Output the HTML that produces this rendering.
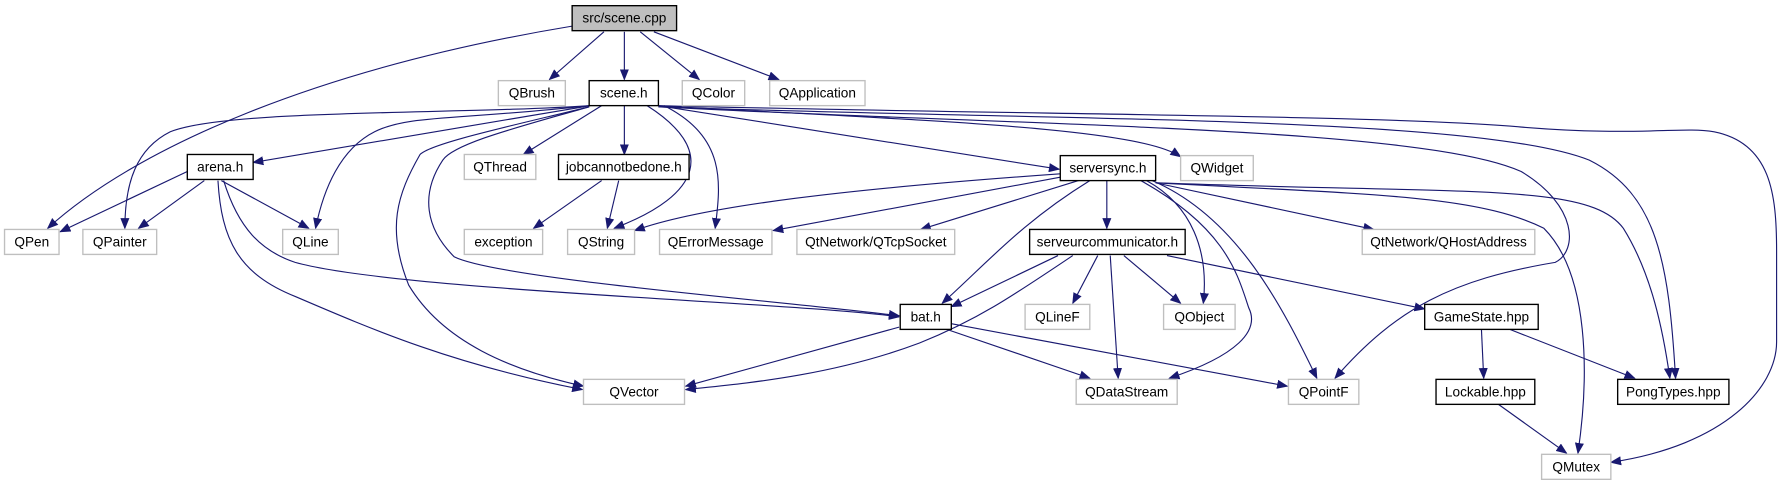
<!DOCTYPE html>
<html><head><meta charset="utf-8"><style>
html,body{margin:0;padding:0;background:#fff;}
svg{display:block;}
text{font-family:"Liberation Sans",sans-serif;font-size:12px;text-anchor:middle;fill:#000;}
.e{fill:none;stroke:#191970;stroke-width:1;marker-end:url(#a);}
.n rect{fill:#fff;stroke:#000;stroke-width:1.2;}
.g rect{fill:#fff;stroke:#bfbfbf;stroke-width:1.2;}
</style></head><body>
<svg width="1780" height="485" viewBox="0 0 1568 427" preserveAspectRatio="none">
<defs><marker id="a" markerWidth="10" markerHeight="8" refX="9" refY="4" orient="auto" markerUnits="userSpaceOnUse"><path d="M0,0 L10,4 L0,8 z" fill="#191970"/></marker></defs>
<g>
<path class="e" d="M504,23 C280,60 120,130 42,201"/>
<path class="e" d="M532,28 L484,70"/>
<path class="e" d="M550,28 L550,70"/>
<path class="e" d="M564,28 L616,70"/>
<path class="e" d="M576,28 L686,70"/>
<path class="e" d="M520,93 L223,143"/>
<path class="e" d="M519,93 C400,101 200,96 150,116 C120,131 110,161 110,201"/>
<path class="e" d="M519,93 C400,106 360,101 330,116 C300,131 285,166 278,201"/>
<path class="e" d="M519,94 C450,111 380,126 370,136 C350,171 340,201 360,251 C390,301 450,326 514,340"/>
<path class="e" d="M519,94 C460,111 400,126 390,141 C370,171 375,201 400,226 C440,246 700,266 792,278"/>
<path class="e" d="M530,93 L461,136"/>
<path class="e" d="M550,93 L550,136"/>
<path class="e" d="M570,93 C630,131 620,171 541,201"/>
<path class="e" d="M585,93 C640,121 635,161 630,201"/>
<path class="e" d="M580,93 L933,149"/>
<path class="e" d="M580,93 C800,106 1000,111 1040,138"/>
<path class="e" d="M580,94 C900,111 1250,111 1340,151 C1390,181 1390,221 1370,231 C1280,246 1230,271 1176,333"/>
<path class="e" d="M580,94 C900,106 1300,101 1400,141 C1460,171 1470,231 1476,333"/>
<path class="e" d="M580,93 C900,101 1200,101 1330,111 C1440,121 1480,111 1510,116 C1560,126 1565,171 1565,221 L1565,301 C1565,341 1520,392 1419,407"/>
<path class="e" d="M165,151 L53,204"/>
<path class="e" d="M180,159 L122,201"/>
<path class="e" d="M195,159 L272,201"/>
<path class="e" d="M197,159 C210,201 230,221 260,231 C350,256 700,266 792,279"/>
<path class="e" d="M192,159 C195,211 210,241 260,261 C330,291 400,321 513,343"/>
<path class="e" d="M530,159 L470,201"/>
<path class="e" d="M545,159 L535,201"/>
<path class="e" d="M934,153 C750,166 620,181 559,203"/>
<path class="e" d="M934,156 L681,203"/>
<path class="e" d="M950,159 L811,202"/>
<path class="e" d="M975,159 L975,201"/>
<path class="e" d="M960,159 C900,196 870,231 830,267"/>
<path class="e" d="M1010,159 C1050,181 1065,221 1060,267"/>
<path class="e" d="M1005,159 C1080,201 1090,241 1100,271 C1110,291 1090,313 1030,333"/>
<path class="e" d="M1015,159 C1090,191 1130,271 1160,333"/>
<path class="e" d="M1018,161 L1210,202"/>
<path class="e" d="M1018,161 C1200,171 1300,171 1360,201 C1400,241 1400,331 1390,399"/>
<path class="e" d="M1018,161 C1300,171 1400,161 1430,201 C1455,241 1465,291 1471,333"/>
<path class="e" d="M932,225 L838,270"/>
<path class="e" d="M945,225 C890,262 860,282 810,302 C730,332 650,338 604,343"/>
<path class="e" d="M967,225 L945,267"/>
<path class="e" d="M978,225 L985,333"/>
<path class="e" d="M990,225 L1040,267"/>
<path class="e" d="M1028,225 L1255,272"/>
<path class="e" d="M792,288 L604,340"/>
<path class="e" d="M834,290 L960,333"/>
<path class="e" d="M838,285 L1134,340"/>
<path class="e" d="M1305,290 L1307,333"/>
<path class="e" d="M1330,290 L1440,333"/>
<path class="e" d="M1320,356 L1380,399"/>
</g>
<g>
<g><rect x="504" y="5" width="92" height="22" style="fill:#bfbfbf;stroke:#000;stroke-width:1.2"/><text x="550" y="20">src/scene.cpp</text></g>
<g class="g"><rect x="439" y="71" width="59" height="22"/><text x="468.5" y="86">QBrush</text></g>
<g class="n"><rect x="519" y="71" width="61" height="22"/><text x="549.5" y="86">scene.h</text></g>
<g class="g"><rect x="601" y="71" width="55" height="22"/><text x="628.5" y="86">QColor</text></g>
<g class="g"><rect x="678" y="71" width="84" height="22"/><text x="720" y="86">QApplication</text></g>
<g class="n"><rect x="165" y="136" width="58" height="22"/><text x="194" y="151">arena.h</text></g>
<g class="g"><rect x="409" y="136" width="63" height="22"/><text x="440.5" y="151">QThread</text></g>
<g class="n"><rect x="492" y="136" width="115" height="22"/><text x="549.5" y="151">jobcannotbedone.h</text></g>
<g class="n"><rect x="934" y="137" width="84" height="22"/><text x="976" y="152">serversync.h</text></g>
<g class="g"><rect x="1040" y="137" width="64" height="22"/><text x="1072" y="152">QWidget</text></g>
<g class="g"><rect x="4" y="202" width="48" height="22"/><text x="28" y="217">QPen</text></g>
<g class="g"><rect x="73" y="202" width="65" height="22"/><text x="105.5" y="217">QPainter</text></g>
<g class="g"><rect x="249" y="202" width="49" height="22"/><text x="273.5" y="217">QLine</text></g>
<g class="g"><rect x="409" y="202" width="69" height="22"/><text x="443.5" y="217">exception</text></g>
<g class="g"><rect x="500" y="202" width="59" height="22"/><text x="529.5" y="217">QString</text></g>
<g class="g"><rect x="581" y="202" width="99" height="22"/><text x="630.5" y="217">QErrorMessage</text></g>
<g class="g"><rect x="702" y="202" width="139" height="22"/><text x="771.5" y="217">QtNetwork/QTcpSocket</text></g>
<g class="n"><rect x="907" y="202" width="137" height="22"/><text x="975.5" y="217">serveurcommunicator.h</text></g>
<g class="g"><rect x="1200" y="202" width="152" height="22"/><text x="1276" y="217">QtNetwork/QHostAddress</text></g>
<g class="n"><rect x="793" y="268" width="45" height="22"/><text x="815.5" y="283">bat.h</text></g>
<g class="g"><rect x="903" y="268" width="57" height="22"/><text x="931.5" y="283">QLineF</text></g>
<g class="g"><rect x="1025" y="268" width="63" height="22"/><text x="1056.5" y="283">QObject</text></g>
<g class="n"><rect x="1255" y="268" width="100" height="22"/><text x="1305" y="283">GameState.hpp</text></g>
<g class="g"><rect x="514" y="334" width="89" height="22"/><text x="558.5" y="349">QVector</text></g>
<g class="g"><rect x="948" y="334" width="89" height="22"/><text x="992.5" y="349">QDataStream</text></g>
<g class="g"><rect x="1135" y="334" width="62" height="22"/><text x="1166" y="349">QPointF</text></g>
<g class="n"><rect x="1265" y="334" width="87" height="22"/><text x="1308.5" y="349">Lockable.hpp</text></g>
<g class="n"><rect x="1425" y="334" width="98" height="22"/><text x="1474" y="349">PongTypes.hpp</text></g>
<g class="g"><rect x="1358" y="400" width="61" height="22"/><text x="1388.5" y="415">QMutex</text></g>
</g>
</svg>
</body></html>
